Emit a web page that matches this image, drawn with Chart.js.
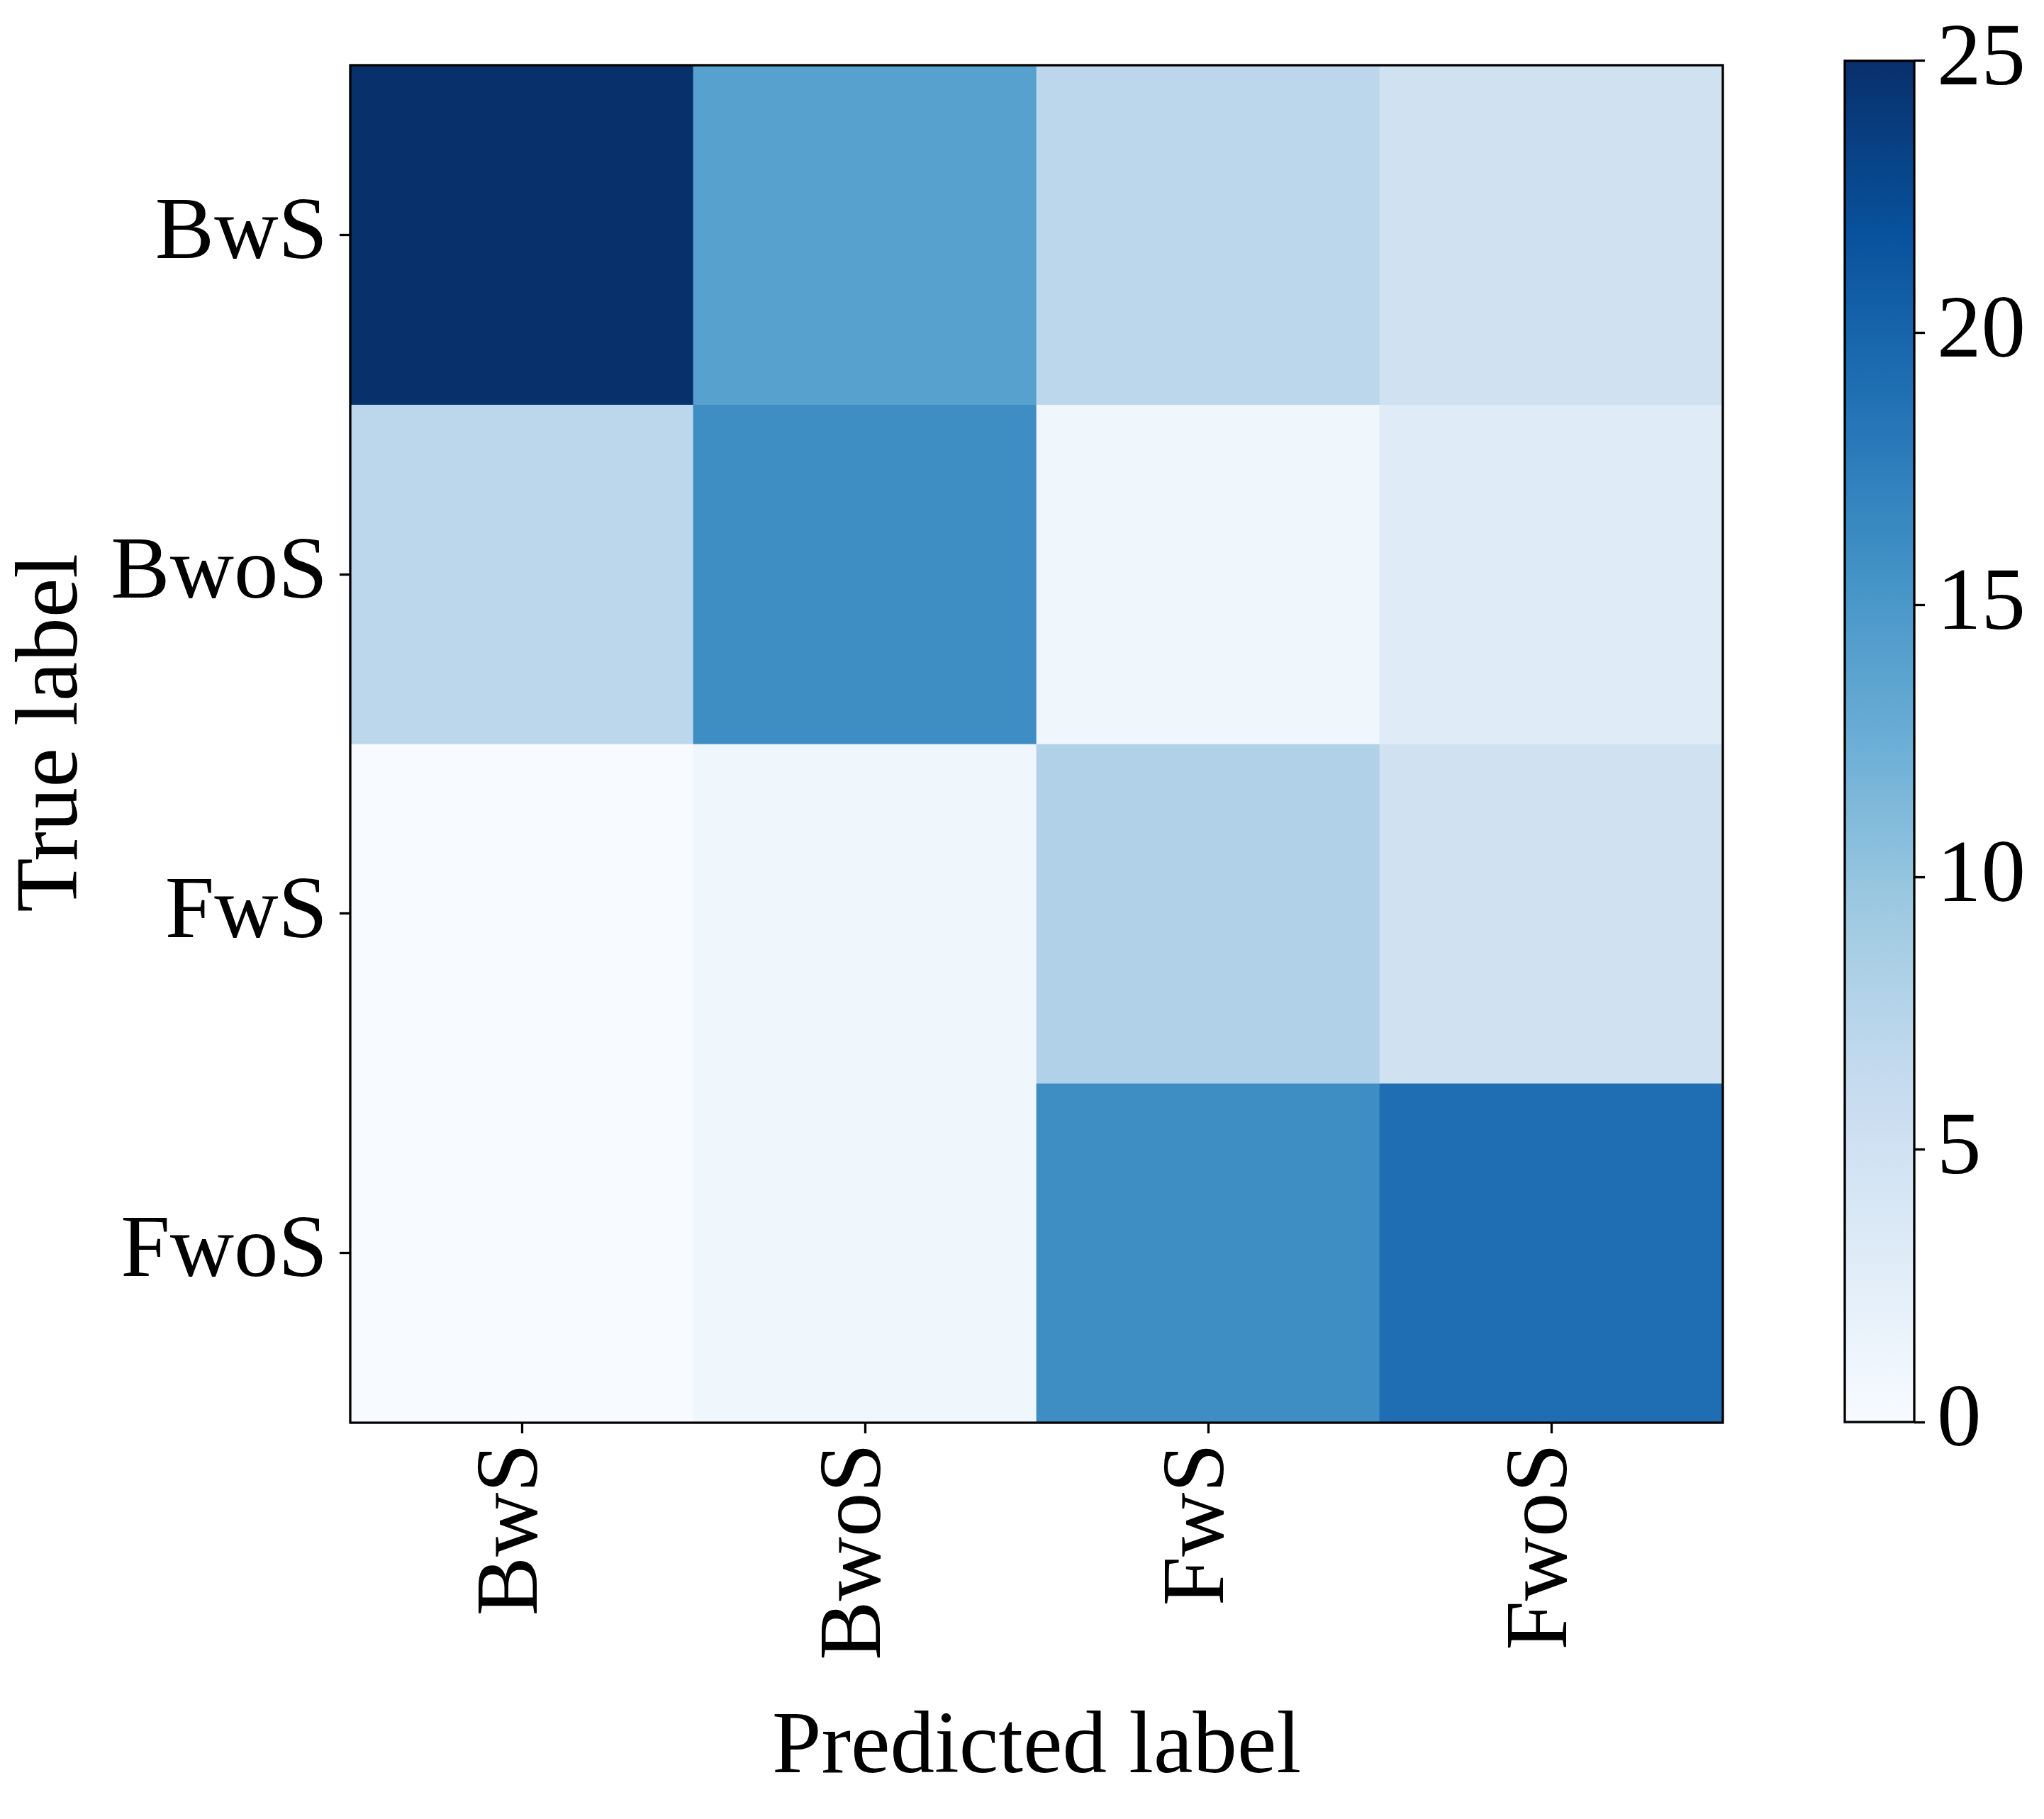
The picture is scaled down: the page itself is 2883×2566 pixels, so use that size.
<!DOCTYPE html>
<html><head><meta charset="utf-8">
<script src="https://cdn.jsdelivr.net/npm/chart.js@4.4.1/dist/chart.umd.min.js"></script>
<style>
html,body{margin:0;padding:0;background:#fff;}
#wrap{position:relative;width:2883px;height:2566px;background:#fff;}
canvas{position:absolute;top:0;}
</style>
</head><body>
<div id="wrap">
<canvas id="cm" width="2500" height="2566" style="left:0px"></canvas>
<canvas id="cb" width="323" height="2566" style="left:2560px"></canvas>
</div>
<script>
// ---- data ----
const predictedLabels = ['BwS', 'BwoS', 'FwS', 'FwoS'];
const trueLabels = ['BwS', 'BwoS', 'FwS', 'FwoS'];
const rowBwS  = [25, 14, 7, 5];
const rowBwoS = [7, 16, 1, 3];
const rowFwS  = [0, 1, 8, 5];
const rowFwoS = [0, 1, 16, 19];
const colorbarTicks = [0, 5, 10, 15, 20, 25];
const vmin = 0, vmax = 25;

const rows = [rowBwS, rowBwoS, rowFwS, rowFwoS];

// matplotlib "Blues" colormap stops
const BLUES = [[247,251,255],[222,235,247],[198,219,239],[158,202,225],[107,174,214],[66,146,198],[33,113,181],[8,81,156],[8,48,107]];
function blues(v) {
  let t = (v - vmin) / (vmax - vmin);
  t = Math.max(0, Math.min(1, t));
  const p = t * (BLUES.length - 1);
  const i = Math.min(Math.floor(p), BLUES.length - 2);
  const f = p - i;
  const a = BLUES[i], b = BLUES[i + 1];
  const c = a.map((x, k) => Math.round(x + (b[k] - x) * f));
  return `rgb(${c[0]},${c[1]},${c[2]})`;
}

const FAMILY = '"Liberation Serif", "Times New Roman", serif';
const FONT = {family: FAMILY, size: 125, lineHeight: 1.2};
const CB_FONT = {family: FAMILY, size: 125, lineHeight: 1.1};
const LW = 3.3;

const framePlugin = {
  id: 'frame',
  afterDraw(chart) {
    const {ctx, chartArea: a} = chart;
    ctx.save();
    ctx.strokeStyle = '#000';
    ctx.lineWidth = LW;
    ctx.strokeRect(a.left, a.top, a.right - a.left, a.bottom - a.top);
    ctx.restore();
  }
};

// ---- confusion matrix ----
const datasets = rows.map((vals, i) => ({
  label: trueLabels[i],
  data: vals.map(() => [i - 0.5, i + 0.5]),
  backgroundColor: vals.map(v => blues(v)),
  borderWidth: 0,
  barPercentage: 1,
  categoryPercentage: 1,
  grouped: false
}));

new Chart(document.getElementById('cm'), {
  type: 'bar',
  data: {labels: predictedLabels, datasets},
  options: {
    responsive: false,
    animation: false,
    devicePixelRatio: 1,
    layout: {padding: {left: 0, top: 71, right: 70, bottom: 0}},
    plugins: {legend: {display: false}, tooltip: {enabled: false}},
    scales: {
      x: {
        type: 'category',
        offset: true,
        grid: {display: true, drawOnChartArea: false, drawTicks: true, offset: false, tickLength: 15, tickWidth: LW, tickColor: '#000'},
        border: {display: false},
        ticks: {font: FONT, color: '#000', minRotation: 90, maxRotation: 90, autoSkip: false, padding: 14, labelOffset: -12},
        title: {display: true, text: 'Predicted label', font: FONT, color: '#000', padding: {top: 0, bottom: 24}},
        afterFit: s => { s.height = 2566 - 2007; }
      },
      y: {
        type: 'linear',
        min: -0.5,
        max: 3.5,
        reverse: true,
        afterBuildTicks: s => { s.ticks = trueLabels.map((_, i) => ({value: i})); },
        grid: {display: true, drawOnChartArea: false, drawTicks: true, tickLength: 15, tickWidth: LW, tickColor: '#000'},
        border: {display: false},
        ticks: {font: FONT, color: '#000', padding: 17, autoSkip: false, callback: v => trueLabels[Math.round(v)]},
        title: {display: true, text: ' True label', font: FONT, color: '#000', padding: {top: 0, bottom: 0}},
        afterFit: s => { s.width = 494; }
      }
    }
  },
  plugins: [framePlugin]
});

// ---- colorbar ----
const BLUES_CSS_LAST = 'rgb(8,48,107)';
function gradientFill(context) {
  const chart = context.chart;
  const a = chart.chartArea;
  if (!a) return BLUES_CSS_LAST;
  const g = chart.ctx.createLinearGradient(0, a.bottom, 0, a.top);
  BLUES.forEach((c, i) => g.addColorStop(i / (BLUES.length - 1), `rgb(${c[0]},${c[1]},${c[2]})`));
  return g;
}

new Chart(document.getElementById('cb'), {
  type: 'bar',
  data: {labels: [''], datasets: [{data: [[vmin, vmax]], backgroundColor: gradientFill, borderWidth: 0, barPercentage: 1, categoryPercentage: 1}]},
  options: {
    responsive: false,
    animation: false,
    devicePixelRatio: 1,
    layout: {padding: {left: 42, top: 72, right: 0, bottom: 560}},
    plugins: {legend: {display: false}, tooltip: {enabled: false}},
    scales: {
      x: {display: false},
      y: {
        position: 'right',
        min: vmin,
        max: vmax,
        afterBuildTicks: s => { s.ticks = colorbarTicks.map(v => ({value: v})); },
        grid: {display: true, drawOnChartArea: false, drawTicks: true, tickLength: 15, tickWidth: LW, tickColor: '#000'},
        border: {display: false},
        ticks: {font: CB_FONT, color: '#000', padding: 17},
        afterFit: s => { s.width = 183; }
      }
    }
  },
  plugins: [framePlugin]
});
</script>
</body></html>
